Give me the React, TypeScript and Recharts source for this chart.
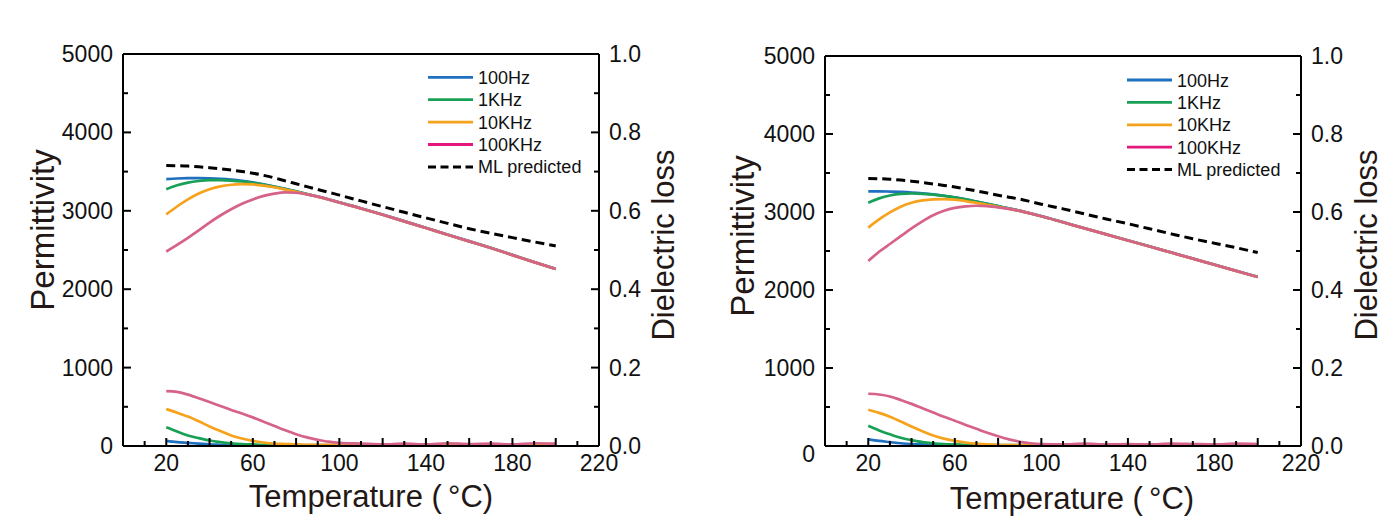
import React from 'react';
import { LineChart, Line, XAxis, YAxis, ReferenceLine } from 'recharts';

// ---------- data ----------
const temps = [20, 25, 30, 35, 40, 45, 50, 55, 60, 65, 70, 75, 80, 85, 90, 95, 100, 110, 120, 130, 140, 150, 160, 170, 180, 190, 200];

// Panel A (left)
const aPerm100Hz = [3405, 3412, 3416, 3417, 3414, 3408, 3398, 3383, 3363, 3338, 3310, 3280, 3248, 3215, 3182, 3147, 3108, 3033, 2953, 2868, 2783, 2698, 2613, 2528, 2438, 2348, 2259];
const aPerm1k = [3275, 3325, 3360, 3380, 3390, 3391, 3386, 3374, 3356, 3333, 3305, 3276, 3245, 3213, 3180, 3145, 3105, 3030, 2950, 2865, 2780, 2695, 2610, 2525, 2435, 2345, 2257];
const aPerm10k = [2955, 3055, 3145, 3220, 3275, 3312, 3332, 3340, 3336, 3322, 3300, 3272, 3242, 3211, 3180, 3145, 3105, 3030, 2950, 2865, 2780, 2695, 2610, 2525, 2435, 2345, 2257];
const aPerm100k = [2480, 2565, 2655, 2750, 2850, 2940, 3020, 3090, 3145, 3190, 3220, 3235, 3230, 3210, 3180, 3145, 3105, 3030, 2950, 2865, 2780, 2695, 2610, 2525, 2435, 2345, 2257];
const aML = [3577, 3575, 3570, 3561, 3550, 3536, 3520, 3501, 3480, 3452, 3420, 3382, 3345, 3308, 3272, 3236, 3200, 3126, 3053, 2981, 2910, 2840, 2772, 2713, 2658, 2604, 2551];
const aLoss100Hz = [0.013, 0.010, 0.008, 0.006, 0.004, 0.003, 0.002, 0.002, 0.001, 0.001, 0.001, 0.001, 0.001, 0.001, 0.001, 0.001, 0.001, 0.001, 0.001, 0.001, 0.001, 0.001, 0.001, 0.001, 0.001, 0.001, 0.001];
const aLoss1k = [0.048, 0.037, 0.027, 0.020, 0.014, 0.010, 0.007, 0.005, 0.004, 0.003, 0.003, 0.002, 0.002, 0.002, 0.002, 0.002, 0.002, 0.002, 0.002, 0.002, 0.002, 0.002, 0.002, 0.002, 0.002, 0.002, 0.002];
const aLoss10k = [0.094, 0.085, 0.075, 0.063, 0.050, 0.038, 0.027, 0.019, 0.013, 0.009, 0.006, 0.005, 0.004, 0.003, 0.003, 0.003, 0.002, 0.002, 0.002, 0.002, 0.002, 0.002, 0.002, 0.002, 0.002, 0.002, 0.002];
const aLoss100k = [0.140, 0.138, 0.131, 0.122, 0.112, 0.102, 0.092, 0.083, 0.073, 0.062, 0.051, 0.040, 0.030, 0.022, 0.016, 0.011, 0.008, 0.006, 0.004, 0.006, 0.004, 0.007, 0.005, 0.006, 0.004, 0.007, 0.006];

// Panel B (right)
const bPerm100Hz = [3265, 3265, 3262, 3257, 3250, 3239, 3225, 3208, 3188, 3162, 3133, 3104, 3075, 3046, 3017, 2982, 2947, 2870, 2792, 2715, 2637, 2560, 2482, 2404, 2325, 2247, 2169];
const bPerm1k = [3120, 3175, 3212, 3232, 3237, 3233, 3222, 3206, 3186, 3161, 3133, 3104, 3075, 3045, 3015, 2980, 2945, 2868, 2790, 2713, 2635, 2558, 2480, 2402, 2323, 2245, 2167];
const bPerm10k = [2800, 2905, 2995, 3068, 3118, 3148, 3162, 3165, 3158, 3140, 3117, 3092, 3066, 3040, 3015, 2980, 2945, 2868, 2790, 2713, 2635, 2558, 2480, 2402, 2323, 2245, 2167];
const bPerm100k = [2372, 2490, 2590, 2690, 2790, 2880, 2958, 3015, 3052, 3072, 3080, 3075, 3060, 3040, 3015, 2980, 2945, 2868, 2790, 2713, 2635, 2558, 2480, 2402, 2323, 2245, 2167];
const bML = [3430, 3427, 3420, 3409, 3395, 3378, 3360, 3341, 3320, 3296, 3270, 3243, 3215, 3190, 3165, 3133, 3100, 3040, 2975, 2910, 2850, 2785, 2720, 2657, 2600, 2542, 2480];
const bLoss100Hz = [0.017, 0.013, 0.010, 0.007, 0.005, 0.004, 0.003, 0.002, 0.002, 0.001, 0.001, 0.001, 0.001, 0.001, 0.001, 0.001, 0.001, 0.001, 0.001, 0.001, 0.001, 0.001, 0.001, 0.001, 0.001, 0.001, 0.001];
const bLoss1k = [0.052, 0.040, 0.030, 0.021, 0.015, 0.010, 0.007, 0.005, 0.004, 0.003, 0.002, 0.002, 0.002, 0.002, 0.002, 0.002, 0.002, 0.002, 0.002, 0.002, 0.002, 0.002, 0.002, 0.002, 0.002, 0.002, 0.002];
const bLoss10k = [0.093, 0.085, 0.075, 0.063, 0.050, 0.038, 0.027, 0.019, 0.013, 0.009, 0.006, 0.004, 0.003, 0.002, 0.002, 0.002, 0.002, 0.002, 0.002, 0.002, 0.002, 0.002, 0.002, 0.002, 0.002, 0.002, 0.002];
const bLoss100k = [0.134, 0.132, 0.127, 0.118, 0.108, 0.097, 0.086, 0.075, 0.065, 0.054, 0.044, 0.034, 0.025, 0.017, 0.011, 0.007, 0.005, 0.004, 0.006, 0.004, 0.005, 0.004, 0.006, 0.005, 0.004, 0.006, 0.005];

// ticks & labels
const xTicks = [0, 10, 20, 30, 40, 50, 60, 70, 80, 90, 100, 110, 120, 130, 140, 150, 160, 170, 180, 190, 200, 210, 220];
const xLabelled = [20, 60, 100, 140, 180, 220];
const permTicks = [0, 500, 1000, 1500, 2000, 2500, 3000, 3500, 4000, 4500, 5000];
const lossTicks = [0, 0.1, 0.2, 0.3, 0.4, 0.5, 0.6, 0.7, 0.8, 0.9, 1.0];
const seriesNames = ['100Hz', '1KHz', '10KHz', '100KHz', 'ML predicted'];
const xTitle = 'Temperature (\u2009°C)';
const yLeftTitle = 'Permittivity';
const yRightTitle = 'Dielectric loss';

// ---------- styles ----------
const FONT = '"Liberation Sans", Arial, Helvetica, sans-serif';
const INK = '#231815';
const C_BLUE = '#1F70BE';
const C_GREEN = '#17A056';
const C_ORANGE = '#F6A21C';
const C_PINK = '#D6628A';
const C_PINK_LEG = '#E4187C';

function buildRows(p1: number[], p2: number[], p3: number[], p4: number[], ml: number[], l1: number[], l2: number[], l3: number[], l4: number[]) {
  return temps.map((t, i) => ({
    t,
    p100Hz: p1[i], p1k: p2[i], p10k: p3[i], p100k: p4[i], ml: ml[i],
    l100Hz: l1[i], l1k: l2[i], l10k: l3[i], l100k: l4[i],
  }));
}

const rowsA = buildRows(aPerm100Hz, aPerm1k, aPerm10k, aPerm100k, aML, aLoss100Hz, aLoss1k, aLoss10k, aLoss100k);
const rowsB = buildRows(bPerm100Hz, bPerm1k, bPerm10k, bPerm100k, bML, bLoss100Hz, bLoss1k, bLoss10k, bLoss100k);

type Geom = {
  x: number; top: number; leftW: number; rightW: number; xAxisH: number;
  zeroDy: number;
  legX: number; legY: number;
  permTitle: [number, number]; lossTitle: [number, number]; xTitlePos: [number, number];
};

const geomA: Geom = {
  x: 0, top: 54, leftW: 123, rightW: 101, xAxisH: 73, zeroDy: 0,
  legX: 428, legY: 77.3,
  permTitle: [42.5, 230], lossTitle: [663, 245], xTitlePos: [371, 507],
};
const geomB: Geom = {
  x: 700, top: 56, leftW: 125, rightW: 99, xAxisH: 73, zeroDy: 8,
  legX: 427, legY: 80,
  permTitle: [42, 236], lossTitle: [666, 245], xTitlePos: [372, 509],
};

const tickText = { fontSize: 23, fontFamily: FONT, fill: '#111' };

function makeXTick() {
  return (props: any) => {
    const { x, y, payload } = props;
    const v = payload.value;
    const major = v % 20 === 0;
    const lab = xLabelled.indexOf(v) >= 0;
    return (
      <g>
        <line x1={x} x2={x} y1={y} y2={y - (major ? 8 : 5)} stroke="#000" strokeWidth={2} />
        {lab && (
          <text x={x} y={y + 25} textAnchor="middle" {...tickText}>{v}</text>
        )}
      </g>
    );
  };
}

function makeLeftTick(zeroDy: number) {
  return (props: any) => {
    const { x, y, payload } = props;
    const v = payload.value;
    const major = v % 1000 === 0;
    return (
      <g>
        <line x1={x} x2={x + (major ? 8 : 5)} y1={y} y2={y} stroke="#000" strokeWidth={2} />
        {major && (
          <text x={x - 10} y={y + 8 + (v === 0 ? zeroDy : 0)} textAnchor="end" {...tickText}>{v}</text>
        )}
      </g>
    );
  };
}

function makeRightTick() {
  return (props: any) => {
    const { x, y, payload } = props;
    const v = payload.value;
    const major = Math.round(v * 10) % 2 === 0;
    return (
      <g>
        <line x1={x} x2={x - (major ? 8 : 5)} y1={y} y2={y} stroke="#000" strokeWidth={2} />
        {major && (
          <text x={x + 10} y={y + 8} textAnchor="start" {...tickText}>{v.toFixed(1)}</text>
        )}
      </g>
    );
  };
}

function Legend({ g }: { g: Geom }) {
  const colors = [C_BLUE, C_GREEN, C_ORANGE, C_PINK_LEG, '#000'];
  const step = 22.4;
  return (
    <>
      {seriesNames.map((n, i) => {
        const yy = g.legY + i * step;
        return (
          <g key={n}>
            <line x1={g.legX} x2={g.legX + 45} y1={yy} y2={yy} stroke={colors[i]} strokeWidth={i === 4 ? 3 : 2.8} strokeDasharray={i === 4 ? '8 4.5' : undefined} />
            <text x={g.legX + 50} y={yy + 6.5} fontSize={18} fontFamily={FONT} fill="#111">{n}</text>
          </g>
        );
      })}
    </>
  );
}

function Panel({ rows, g }: { rows: any[]; g: Geom }) {
  const lw = 2.7;
  return (
    <div style={{ position: 'absolute', left: g.x, top: 0, width: 700, height: 519 }}>
      <LineChart width={700} height={519} data={rows} margin={{ top: g.top, right: 0, left: 0, bottom: 0 }}>
        <XAxis
          dataKey="t" type="number" domain={[0, 220]} ticks={xTicks} interval={0}
          height={g.xAxisH} axisLine={{ stroke: '#000', strokeWidth: 2 }} tickLine={false}
          tickSize={0} tickMargin={0} tick={makeXTick()} allowDataOverflow
        />
        <YAxis
          yAxisId="left" domain={[0, 5000]} ticks={permTicks} interval={0} width={g.leftW}
          axisLine={{ stroke: '#000', strokeWidth: 2 }} tickLine={false} tickSize={0} tickMargin={0}
          tick={makeLeftTick(g.zeroDy)} allowDataOverflow
        />
        <YAxis
          yAxisId="right" orientation="right" domain={[0, 1]} ticks={lossTicks} interval={0} width={g.rightW}
          axisLine={{ stroke: '#000', strokeWidth: 2 }} tickLine={false} tickSize={0} tickMargin={0}
          tick={makeRightTick()} allowDataOverflow
        />
        <ReferenceLine yAxisId="left" y={5000} stroke="#000" strokeWidth={2} />

        <Line yAxisId="right" dataKey="l100Hz" type="monotone" stroke={C_BLUE} strokeWidth={lw} dot={false} isAnimationActive={false} />
        <Line yAxisId="right" dataKey="l1k" type="monotone" stroke={C_GREEN} strokeWidth={lw} dot={false} isAnimationActive={false} />
        <Line yAxisId="right" dataKey="l10k" type="monotone" stroke={C_ORANGE} strokeWidth={lw} dot={false} isAnimationActive={false} />
        <Line yAxisId="right" dataKey="l100k" type="monotone" stroke={C_PINK} strokeWidth={lw} dot={false} isAnimationActive={false} />

        <Line yAxisId="left" dataKey="p100Hz" type="monotone" stroke={C_BLUE} strokeWidth={lw} dot={false} isAnimationActive={false} />
        <Line yAxisId="left" dataKey="p1k" type="monotone" stroke={C_GREEN} strokeWidth={lw} dot={false} isAnimationActive={false} />
        <Line yAxisId="left" dataKey="p10k" type="monotone" stroke={C_ORANGE} strokeWidth={lw} dot={false} isAnimationActive={false} />
        <Line yAxisId="left" dataKey="p100k" type="monotone" stroke={C_PINK} strokeWidth={lw} dot={false} isAnimationActive={false} />
        <Line yAxisId="left" dataKey="ml" type="monotone" stroke="#000" strokeWidth={3} strokeDasharray="9 5" dot={false} isAnimationActive={false} />
      </LineChart>
      <svg width={700} height={519} style={{ position: 'absolute', left: 0, top: 0, pointerEvents: 'none' }}>
        <Legend g={g} />
        <text transform={`translate(${g.permTitle[0]},${g.permTitle[1]}) rotate(-90)`} textAnchor="middle" dominantBaseline="central" fontSize={33} fontFamily={FONT} fill={INK}>{yLeftTitle}</text>
        <text transform={`translate(${g.lossTitle[0]},${g.lossTitle[1]}) rotate(-90)`} textAnchor="middle" dominantBaseline="central" fontSize={31} fontFamily={FONT} fill={INK}>{yRightTitle}</text>
        <text x={g.xTitlePos[0]} y={g.xTitlePos[1]} textAnchor="middle" fontSize={31} fontFamily={FONT} fill={INK}>{xTitle}</text>
      </svg>
    </div>
  );
}

export default function App() {
  return (
    <div style={{ position: 'absolute', left: 0, top: 0, width: 1400, height: 519, background: '#fff', overflow: 'hidden' }}>
      <Panel rows={rowsA} g={geomA} />
      <Panel rows={rowsB} g={geomB} />
    </div>
  );
}
